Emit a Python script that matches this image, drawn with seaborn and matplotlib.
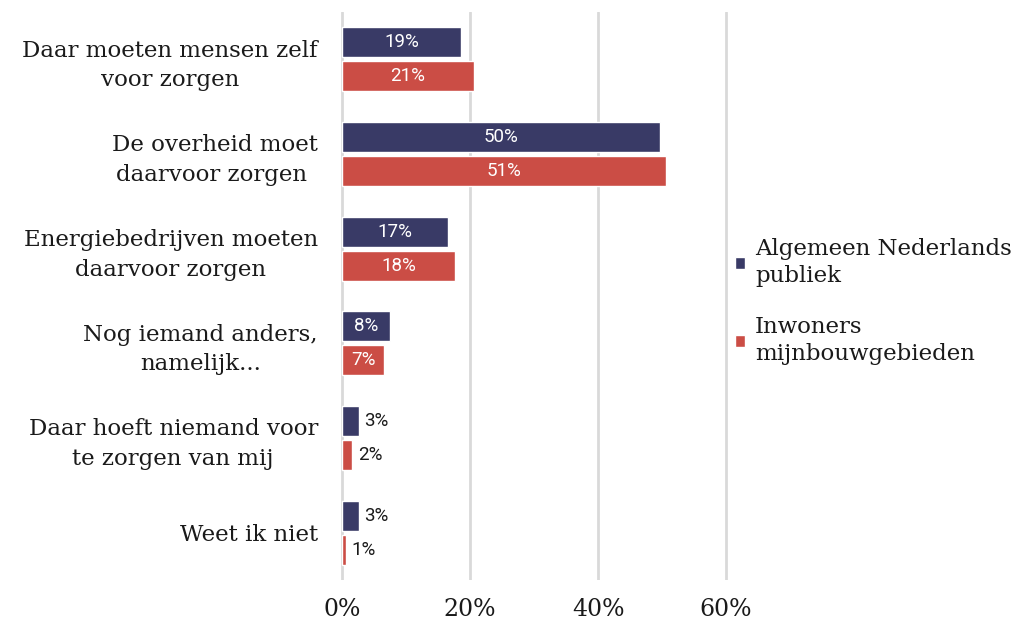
import pandas as pd
import matplotlib
matplotlib.use('Agg')
import matplotlib.pyplot as plt
import seaborn as sns

categories = [
    "Daar moeten mensen zelf\nvoor zorgen",
    "De overheid moet\ndaarvoor zorgen ",
    "Energiebedrijven moeten\ndaarvoor zorgen",
    "Nog iemand anders,\nnamelijk...",
    "Daar hoeft niemand voor\nte zorgen van mij",
    "Weet ik niet",
]
series = ["Algemeen Nederlands\npubliek", "Inwoners\nmijnbouwgebieden"]
algemeen = [18.6, 49.7, 16.6, 7.5, 2.6, 2.6]
inwoners = [20.6, 50.6, 17.7, 6.6, 1.6, 0.6]
colors = ["#393A66", "#CB4D45"]

df = pd.DataFrame({
    "categorie": categories * 2,
    "groep": [series[0]] * len(categories) + [series[1]] * len(categories),
    "pct": algemeen + inwoners,
})

sns.set_style("white")
fig = plt.figure(figsize=(10.15, 6.25), dpi=100)
ax = fig.add_axes([0.3351, 0.072, 0.3821, 0.909])

sns.barplot(data=df, y="categorie", x="pct", hue="groep", palette=colors,
            orient="h", width=0.72, gap=0.12, ax=ax, saturation=1)

# labels in/naast de balken
for cont in ax.containers:
    for bar in cont:
        w = bar.get_width()
        y = bar.get_y() + bar.get_height() / 2
        txt = f"{w:.0f}%"
        if w >= 5:
            ax.text(w / 2, y, txt, ha="center", va="center", color="white",
                    fontsize=13.5, family="Roboto")
        else:
            ax.text(w + 0.9, y, txt, ha="left", va="center", color="#1a1a1a",
                    fontsize=13.5, family="Roboto")

ax.set_xlim(-0.3, 60.3)
ax.set_xticks([0, 20, 40, 60])
ax.set_xticklabels(["0%", "20%", "40%", "60%"], fontsize=17,
                   family="DejaVu Serif", color="#1a1a1a")
ax.set_xlabel("")
ax.set_ylabel("")
for lbl in ax.get_yticklabels():
    lbl.set_fontsize(16.5)
    lbl.set_family("DejaVu Serif")
    lbl.set_color("#1a1a1a")
    lbl.set_multialignment("center")
    lbl.set_linespacing(1.45)
ax.tick_params(axis="y", length=0, pad=16)
ax.tick_params(axis="x", length=0, pad=13)
ax.grid(axis="x", color="#D9D9D9", linewidth=2)
ax.set_axisbelow(True)
for s in ax.spines.values():
    s.set_visible(False)

handles, labels = ax.get_legend_handles_labels()
leg = ax.legend(handles, labels, loc="center left", bbox_to_anchor=(0.965, 0.49),
                frameon=False, prop={"family": "DejaVu Serif", "size": 16.5},
                handlelength=0.42, handleheight=0.42, handletextpad=0.45,
                labelspacing=1.25)
for t in leg.get_texts():
    t.set_color("#1a1a1a")
    t.set_linespacing(1.3)

plt.savefig("out.png", dpi=100)
